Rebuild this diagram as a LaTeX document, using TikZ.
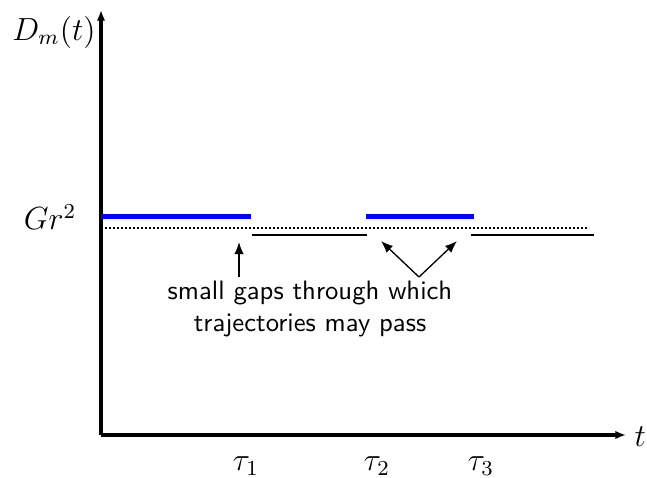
\documentclass[tikz,border=0pt]{standalone}
\usetikzlibrary{arrows.meta}
\begin{document}
\begin{tikzpicture}[x=0.375pt,y=-0.375pt,
  axis/.style={line width=1.3pt,-{Latex[length=4pt,width=3.2pt]}},
  blueseg/.style={draw=blue,line width=1.9pt},
  blackseg/.style={draw=black,line width=0.8pt},
  dotline/.style={draw=black,line width=0.75pt,dash pattern=on 0.6pt off 0.9pt},
  pointer/.style={line width=0.5pt,-{Latex[length=4.5pt,width=3.5pt]}},
  mathlbl/.style={font=\large,inner sep=0pt},
  txt/.style={font=\sffamily,align=center,inner sep=0pt}]
\useasboundingbox (0,0) rectangle (647,477);
\coordinate (o) at (101,435);
\coordinate (ytop) at (101,10);
\coordinate (xend) at (626,435);
\draw[axis] (o) -- (ytop);
\draw[axis] (o) -- (xend);
\node[mathlbl] (dlbl) at (54,32) {$D_m(t)$};
\node[mathlbl] (glbl) at (50,217) {$Gr^2$};
\node[mathlbl,anchor=west] (tlbl) at (634,437) {$t$};
\node[mathlbl] (t1) at (246,466) {$\tau_1$};
\node[mathlbl] (t2) at (377,466) {$\tau_2$};
\node[mathlbl] (t3) at (481,466) {$\tau_3$};
% dotted level
\coordinate (d0) at (101,228);
\coordinate (d1) at (589,228);
\draw[dotline] (d0) -- (d1);
% blue segments
\coordinate (b0) at (101,216.5);
\coordinate (b1) at (251,216.5);
\coordinate (b2) at (366,216.5);
\coordinate (b3) at (474,216.5);
\draw[blueseg] (b0) -- (b1);
\draw[blueseg] (b2) -- (b3);
% black segments
\coordinate (k0) at (252,235);
\coordinate (k1) at (367,235);
\coordinate (k2) at (471,235);
\coordinate (k3) at (594,235);
\draw[blackseg] (k0) -- (k1);
\draw[blackseg] (k2) -- (k3);
% annotation
\node[txt] (note) at (310,309) {small gaps through which\\trajectories may pass};
\coordinate (a1t) at (239,277);
\coordinate (a1h) at (239,242);
\draw[pointer] (a1t) -- (a1h);
\coordinate (apex) at (419,277);
\coordinate (vl) at (381,241);
\coordinate (vr) at (457,241);
\draw[pointer] (apex) -- (vl);
\draw[pointer] (apex) -- (vr);
\end{tikzpicture}
\end{document}
